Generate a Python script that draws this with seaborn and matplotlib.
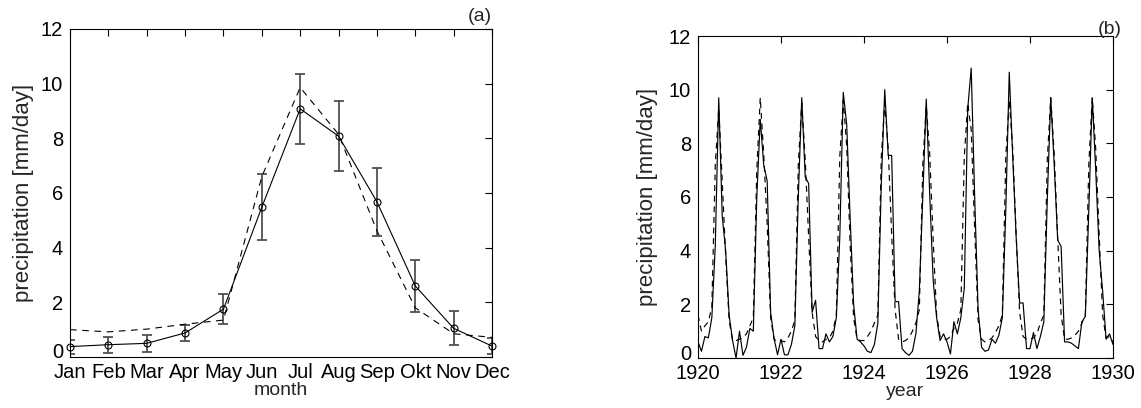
import numpy as np
import pandas as pd
import matplotlib
matplotlib.use("Agg")
import matplotlib.pyplot as plt
from matplotlib.transforms import ScaledTranslation
import seaborn as sns

# ---------------- data: panel (a) monthly climatology ----------------
months = ["Jan", "Feb", "Mar", "Apr", "May", "Jun", "Jul", "Aug", "Sep", "Okt", "Nov", "Dec"]
obs_mean = [0.38, 0.45, 0.50, 0.88, 1.75, 5.48, 9.08, 8.08, 5.68, 2.60, 1.05, 0.40]
obs_err = [0.26, 0.30, 0.30, 0.30, 0.55, 1.20, 1.27, 1.27, 1.25, 0.95, 0.62, 0.30]
model_mean = [1.00, 0.92, 1.02, 1.20, 1.35, 6.60, 9.86, 8.15, 4.62, 1.80, 0.85, 0.72]

# ---------------- data: panel (b) monthly series 1920-1929 (+Jan 1930) ----------------
start_year = 1920
obs_1920 = [0.60, 0.25, 0.80, 0.75, 1.50, 4.20, 9.70, 5.30, 4.00, 1.60, 0.65, 0.00]
obs_1921 = [1.00, 0.10, 0.40, 1.10, 1.00, 6.00, 8.90, 7.20, 6.60, 1.70, 0.72, 0.12]
obs_1922 = [0.70, 0.12, 0.12, 0.50, 1.20, 6.00, 9.70, 6.75, 6.50, 1.70, 2.15, 0.35]
obs_1923 = [0.35, 0.90, 0.60, 0.80, 1.50, 4.50, 9.90, 8.70, 5.20, 2.00, 0.70, 0.60]
obs_1924 = [0.45, 0.25, 0.20, 0.50, 1.30, 6.50, 10.00, 7.55, 7.55, 2.10, 2.10, 0.35]
obs_1925 = [0.20, 0.10, 0.25, 0.90, 2.50, 6.00, 9.65, 6.10, 2.90, 1.50, 0.65, 0.90]
obs_1926 = [0.60, 0.15, 1.35, 0.90, 1.50, 2.60, 9.30, 10.80, 6.00, 1.80, 0.40, 0.25]
obs_1927 = [0.30, 0.70, 0.55, 0.85, 1.50, 5.50, 10.65, 7.50, 4.50, 2.05, 2.05, 0.35]
obs_1928 = [0.35, 0.95, 0.35, 0.80, 1.35, 5.90, 9.70, 7.20, 4.40, 4.15, 0.60, 0.60]
obs_1929 = [0.55, 0.45, 0.35, 1.35, 1.55, 5.50, 9.70, 7.00, 4.00, 2.50, 0.70, 0.90]
obs_1930 = [0.50]

mod_1920 = [1.60, 1.00, 1.20, 1.35, 1.90, 7.20, 9.30, 6.60, 3.80, 1.40, 0.65, 0.65]
mod_1921 = [0.70, 0.75, 0.90, 1.20, 1.50, 7.00, 9.70, 7.60, 5.00, 1.50, 0.70, 0.60]
mod_1922 = [0.65, 0.60, 0.75, 1.00, 1.40, 7.20, 9.50, 7.40, 4.50, 1.70, 0.80, 0.65]
mod_1923 = [0.60, 0.70, 0.75, 1.00, 1.60, 7.50, 9.60, 7.90, 4.20, 1.50, 0.70, 0.65]
mod_1924 = [0.65, 0.80, 1.00, 1.30, 1.60, 7.50, 9.50, 7.80, 4.60, 1.80, 0.70, 0.60]
mod_1925 = [0.65, 0.75, 1.00, 1.30, 1.80, 7.20, 9.40, 7.60, 4.40, 1.60, 0.80, 0.70]
mod_1926 = [0.70, 0.80, 1.10, 1.30, 1.80, 7.50, 9.50, 8.50, 4.80, 1.40, 0.70, 0.60]
mod_1927 = [0.65, 0.75, 0.95, 1.20, 1.60, 7.50, 9.60, 7.80, 4.60, 1.70, 0.80, 0.70]
mod_1928 = [0.70, 0.75, 0.90, 1.30, 1.60, 7.40, 9.70, 7.60, 4.50, 1.60, 0.70, 0.70]
mod_1929 = [0.75, 0.85, 1.00, 1.30, 1.60, 7.20, 9.70, 7.80, 4.60, 1.60, 0.75, 0.80]
mod_1930 = [0.60]

year_ticks = [1920, 1922, 1924, 1926, 1928, 1930]
y_ticks = [0, 2, 4, 6, 8, 10, 12]

obs_series = (obs_1920 + obs_1921 + obs_1922 + obs_1923 + obs_1924 + obs_1925 +
              obs_1926 + obs_1927 + obs_1928 + obs_1929 + obs_1930)
mod_series = (mod_1920 + mod_1921 + mod_1922 + mod_1923 + mod_1924 + mod_1925 +
              mod_1926 + mod_1927 + mod_1928 + mod_1929 + mod_1930)

# ---------------- style ----------------
sns.set_style("white")
plt.rcParams["font.family"] = ["Liberation Sans", "DejaVu Sans"]
plt.rcParams["axes.edgecolor"] = "black"
plt.rcParams["axes.linewidth"] = 0.8

W, H = 1141, 408
fig = plt.figure(figsize=(W / 100, H / 100), dpi=100)
ax1 = fig.add_axes([70 / W, (H - 357) / H, 422 / W, 328 / H])
ax2 = fig.add_axes([698 / W, (H - 358) / H, 415 / W, 322 / H])

# ---------------- panel (a) ----------------
df_a = pd.DataFrame({"month": np.arange(1, 13), "obs": obs_mean,
                     "err": obs_err, "model": model_mean})

ax1.errorbar(df_a["month"], df_a["obs"], yerr=df_a["err"], fmt="none",
             ecolor="#505050", elinewidth=1.3, capsize=3.5, capthick=1.3, zorder=1)
sns.lineplot(data=df_a, x="month", y="model", ax=ax1, color="black",
             linewidth=0.8, linestyle=(0, (6, 5)), zorder=2)
sns.lineplot(data=df_a, x="month", y="obs", ax=ax1, color="black",
             linewidth=0.8, marker="o", markersize=5, markerfacecolor="none",
             markeredgecolor="black", markeredgewidth=0.8, clip_on=False, zorder=3)

ax1.set_xlim(1, 12)
ax1.set_ylim(0, 12)
ax1.set_xticks(df_a["month"])
ax1.set_xticklabels(months)
ax1.set_yticks(y_ticks)
ax1.set_xlabel("month", fontsize=14, labelpad=0)
ax1.set_ylabel("precipitation [mm/day]", fontsize=16, labelpad=5)
ax1.text(1.0, 1.012, "(a)", transform=ax1.transAxes, ha="right", va="bottom", fontsize=14)

# ---------------- panel (b) ----------------
df_b = pd.DataFrame({"year": start_year + np.arange(len(obs_series)) / 12.0,
                     "obs": obs_series, "model": mod_series})
sns.lineplot(data=df_b, x="year", y="model", ax=ax2, color="black",
             linewidth=0.85, linestyle=(0, (5, 4)))
sns.lineplot(data=df_b, x="year", y="obs", ax=ax2, color="black", linewidth=0.85)

ax2.set_xlim(1920, 1930)
ax2.set_ylim(0, 12)
ax2.set_xticks(year_ticks)
ax2.set_yticks(y_ticks)
ax2.set_xlabel("year", fontsize=14, labelpad=0)
ax2.set_ylabel("precipitation [mm/day]", fontsize=16, labelpad=8)
ax2.text(1.02, 0.995, "(b)", transform=ax2.transAxes, ha="right", va="bottom", fontsize=14)

for ax in (ax1, ax2):
    ax.tick_params(direction="in", length=5, width=0.8, top=True, right=True,
                   labelsize=14.5, colors="black")
    ax.tick_params(axis="x", pad=4)
    ax.tick_params(axis="y", pad=5)
    for s in ax.spines.values():
        s.set_visible(True)
        s.set_color("black")
        s.set_linewidth(0.8)
    # lift the "0" label slightly so it does not collide with the first x label
    lab0 = ax.yaxis.get_major_ticks()[0].label1
    lab0.set_transform(lab0.get_transform() + ScaledTranslation(0, 6 / 100, fig.dpi_scale_trans))

fig.savefig("out.png", dpi=100, facecolor="white")
